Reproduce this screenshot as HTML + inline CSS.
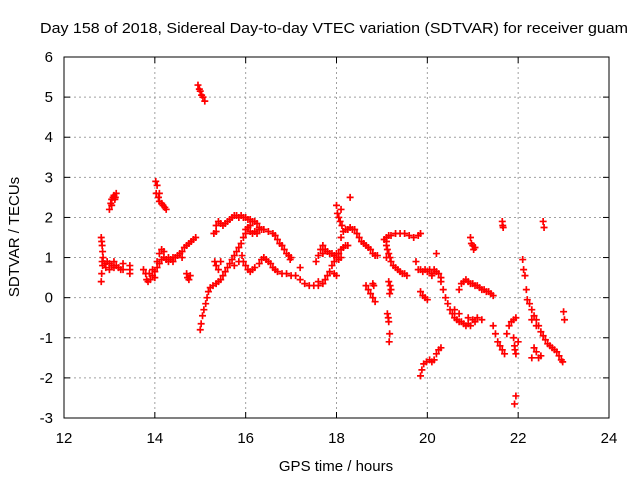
<!DOCTYPE html>
<html><head><meta charset="utf-8"><style>
body{margin:0;background:#fff}
svg text{font-family:"Liberation Sans",sans-serif;font-size:15px;fill:#000}
</style></head><body>
<svg id="chart" width="640" height="480" xmlns="http://www.w3.org/2000/svg">
<rect width="640" height="480" fill="#fff"/>
<text x="334" y="33" text-anchor="middle" textLength="588" lengthAdjust="spacingAndGlyphs">Day 158 of 2018, Sidereal Day-to-day VTEC variation (SDTVAR) for receiver guam</text>
<text x="336" y="471" text-anchor="middle">GPS time / hours</text>
<text transform="translate(19,237) rotate(-90)" text-anchor="middle">SDTVAR / TECUs</text>
<g id="grid"></g>
<g id="ticks"></g>
<g id="marks"></g>
<rect x="64" y="57" width="545" height="361" fill="none" stroke="#000" stroke-width="1"/>
</svg>
<script>
const xTicks=[12,14,16,18,20,22,24];
const yTicks=[-3,-2,-1,0,1,2,3,4,5,6];
const segA=[[12.82,1.5],[12.83,1.4],[12.84,1.3],[12.85,1.15],[12.86,1.0],[12.84,0.9],[12.85,0.8],[12.83,0.6],[12.82,0.4],[12.9,0.85],[12.95,0.9],[13.0,0.85],[13.05,0.8],[13.1,0.9],[13.15,0.8],[13.2,0.75],[13.25,0.7],[12.92,0.75],[13.0,0.7],[13.1,0.75],[13.3,0.85],[13.3,0.7]];
const segB=[[13.0,2.2],[13.03,2.35],[13.05,2.45],[13.08,2.5],[13.1,2.55],[13.13,2.5],[13.15,2.6],[13.05,2.3],[13.12,2.45]];
const segC=[[13.45,0.8],[13.45,0.7],[13.45,0.6],[13.75,0.7],[13.8,0.6],[13.82,0.45],[13.85,0.4],[13.9,0.45],[13.95,0.55],[14.0,0.65],[14.05,0.75],[14.1,0.85],[14.15,0.95],[14.2,1.0],[14.25,0.95],[14.3,1.0],[14.35,0.95],[14.4,1.0],[14.45,1.0],[14.5,1.05],[14.55,1.1],[14.6,1.15],[14.65,1.25],[14.7,1.3],[14.75,1.35],[14.8,1.4],[14.85,1.45],[14.9,1.5],[13.88,0.6],[13.95,0.7],[14.05,0.9],[14.1,1.1],[14.15,1.2],[14.2,1.15],[14.0,0.5],[14.3,0.9],[14.4,0.9],[14.6,1.0]];
const segD=[[14.02,2.9],[14.05,2.8],[14.03,2.6],[14.08,2.5],[14.1,2.4],[14.15,2.35],[14.18,2.3],[14.22,2.25],[14.25,2.2],[14.1,2.6],[14.7,0.6],[14.72,0.5],[14.75,0.45],[14.78,0.55]];
const segE=[[14.95,5.3],[14.98,5.2],[15.0,5.15],[15.03,5.05],[15.06,5.0],[15.1,4.9]];
const segF=[[15.0,-0.8],[15.02,-0.65],[15.05,-0.45],[15.08,-0.3],[15.12,-0.15],[15.15,0.0],[15.18,0.15],[15.22,0.25],[15.28,0.3],[15.35,0.35],[15.4,0.4],[15.45,0.45],[15.5,0.55],[15.55,0.65],[15.6,0.75],[15.65,0.85],[15.7,0.95],[15.75,1.05],[15.8,1.15],[15.85,1.25],[15.9,1.35],[15.95,1.5],[16.0,1.6],[15.75,0.8],[15.85,0.9],[15.92,1.05],[15.32,0.9],[15.35,0.8],[15.4,0.7],[15.45,0.9]];
const segG=[[15.3,1.6],[15.35,1.8],[15.4,1.9],[15.45,1.85],[15.5,1.8],[15.55,1.85],[15.6,1.9],[15.65,1.95],[15.7,2.0],[15.75,2.05],[15.8,2.05],[15.85,2.0],[15.9,2.05],[15.95,2.0],[16.0,2.0],[16.05,1.95],[16.1,1.95],[16.15,1.9],[16.2,1.9],[16.25,1.85],[16.3,1.75],[16.35,1.7],[15.35,1.65]];
const segH=[[16.0,1.7],[16.05,1.75],[16.1,1.65],[16.15,1.6],[16.2,1.65],[16.3,1.7],[16.4,1.7],[16.5,1.65],[16.6,1.6],[16.65,1.55],[16.7,1.45],[16.75,1.35],[16.8,1.3],[16.85,1.2],[16.9,1.1],[16.95,1.05],[17.0,1.0],[16.1,1.8],[16.25,1.6]];
const segI=[[15.95,0.9],[16.0,0.8],[16.05,0.7],[16.1,0.65],[16.15,0.7],[16.2,0.75],[16.3,0.85],[16.35,0.95],[16.4,1.0],[16.45,0.95],[16.5,0.9],[16.55,0.85],[16.6,0.75],[16.65,0.7],[16.7,0.65],[16.8,0.6],[16.9,0.6],[17.0,0.55],[17.1,0.55],[17.2,0.45],[17.3,0.35],[17.4,0.3],[17.5,0.3],[17.6,0.3],[17.7,0.35],[17.75,0.45],[17.8,0.55],[17.85,0.65],[17.9,0.8],[17.95,0.9],[18.0,1.0],[18.05,1.1],[18.1,1.2],[18.15,1.25],[18.2,1.3],[18.25,1.3],[16.98,0.95],[17.2,0.75],[17.6,0.4]];
const segJ=[[17.55,0.9],[17.6,1.05],[17.65,1.2],[17.7,1.3],[17.75,1.2],[17.8,1.15],[17.85,1.1],[17.9,1.1],[17.95,1.05],[18.0,1.1],[18.05,0.95],[18.1,1.0],[17.7,1.1],[17.95,0.6],[18.0,0.55]];
const segK=[[18.0,2.3],[18.02,2.1],[18.05,2.0],[18.08,1.9],[18.1,2.2],[18.12,1.8],[18.15,1.65],[18.2,1.7],[18.25,1.7],[18.3,1.75],[18.35,1.7],[18.4,1.7],[18.45,1.6],[18.5,1.5],[18.55,1.4],[18.6,1.35],[18.65,1.3],[18.7,1.25],[18.75,1.2],[18.8,1.1],[18.85,1.05],[18.9,1.05],[18.3,2.5],[18.1,1.5]];
const segL=[[18.65,0.3],[18.7,0.2],[18.75,0.1],[18.8,0.0],[18.85,-0.1],[18.82,0.3],[18.8,0.35],[19.1,1.4],[19.1,1.3],[19.12,1.2],[19.15,1.1],[19.18,1.0],[19.1,1.0],[19.2,0.9],[19.25,0.8],[19.3,0.75],[19.35,0.7],[19.4,0.65],[19.45,0.6],[19.5,0.6],[19.55,0.55],[19.12,-0.4],[19.14,-0.5],[19.15,-0.6],[19.17,-0.9],[19.16,-1.1],[19.15,0.4],[19.18,0.3],[19.2,0.2],[19.17,0.1]];
const segM=[[19.05,1.45],[19.1,1.5],[19.15,1.55],[19.2,1.55],[19.3,1.6],[19.4,1.6],[19.5,1.6],[19.6,1.55],[19.7,1.5],[19.8,1.55],[19.85,1.6]];
const segN=[[19.75,0.9],[19.8,0.7],[19.85,0.7],[19.9,0.65],[19.95,0.7],[20.0,0.65],[20.05,0.7],[20.1,0.6],[20.15,0.7],[20.2,0.65],[20.25,0.6],[20.3,0.5],[20.1,0.55],[19.85,0.15],[19.9,0.05],[19.95,0.0],[20.0,-0.05],[20.2,1.1],[19.85,-1.95],[19.88,-1.8],[19.92,-1.65],[19.98,-1.6],[20.05,-1.55],[20.1,-1.6],[20.15,-1.55],[20.2,-1.4],[20.25,-1.3],[20.3,-1.25]];
const segO=[[20.3,0.4],[20.35,0.2],[20.4,0.0],[20.45,-0.15],[20.5,-0.3],[20.55,-0.4],[20.6,-0.5],[20.65,-0.55],[20.7,-0.6],[20.75,-0.6],[20.8,-0.65],[20.85,-0.7],[20.9,-0.65],[20.95,-0.7],[21.0,-0.55],[21.05,-0.6],[21.1,-0.5],[20.6,-0.3],[20.7,-0.4],[20.9,-0.5],[21.2,-0.55]];
const segP=[[20.7,0.2],[20.75,0.35],[20.8,0.4],[20.85,0.45],[20.9,0.4],[20.95,0.35],[21.0,0.35],[21.05,0.3],[21.1,0.3],[21.15,0.25],[21.2,0.2],[21.25,0.2],[21.3,0.15],[21.35,0.15],[21.4,0.1],[21.45,0.05],[20.95,1.5],[20.97,1.35],[21.0,1.3],[21.05,1.25],[21.02,1.2],[21.65,1.9],[21.66,1.8],[21.67,1.75]];
const segQ=[[21.45,-0.7],[21.5,-0.9],[21.55,-1.1],[21.6,-1.2],[21.65,-1.3],[21.7,-1.4],[21.75,-0.9],[21.8,-0.7],[21.85,-0.6],[21.9,-0.55],[21.95,-0.5],[21.9,-1.0],[21.92,-1.2],[21.95,-1.4],[21.93,-1.3],[21.95,-2.45],[21.92,-2.65],[22.0,-1.1]];
const segR=[[22.1,0.95],[22.12,0.7],[22.15,0.55],[22.18,0.2],[22.2,-0.05],[22.25,-0.15],[22.3,-0.3],[22.35,-0.45],[22.4,-0.55],[22.45,-0.7],[22.5,-0.85],[22.55,-0.95],[22.6,-1.05],[22.65,-1.15],[22.7,-1.2],[22.75,-1.25],[22.8,-1.3],[22.85,-1.35],[22.9,-1.45],[22.95,-1.55],[22.98,-1.6],[22.3,-0.55],[22.4,-0.7],[22.35,-1.25],[22.4,-1.35],[22.45,-1.5],[22.3,-1.5],[22.5,-1.45],[22.55,1.9],[22.57,1.75],[23.0,-0.35],[23.02,-0.55]];
const allSegs=[segA,segB,segC,segD,segE,segF,segG,segH,segI,segJ,segK,segL,segM,segN,segO,segP,segQ,segR];
const NS='http://www.w3.org/2000/svg';
const X=v=>64+(v-12)*545/12, Y=v=>57+(6-v)*361/9;
const grid=document.getElementById('grid'), ticks=document.getElementById('ticks'), marks=document.getElementById('marks');
function ln(p,x1,y1,x2,y2,st,extra){const l=document.createElementNS(NS,'line');l.setAttribute('x1',x1);l.setAttribute('y1',y1);l.setAttribute('x2',x2);l.setAttribute('y2',y2);l.setAttribute('stroke',st);if(extra)l.setAttribute('stroke-dasharray',extra);p.appendChild(l);return l;}
xTicks.forEach(t=>{const x=X(t);
 if(t>12&&t<24){const g=ln(grid,x,57,x,418,'#a0a0a0','2,3');
 
 }
 ln(ticks,x,418,x,412,'#000');ln(ticks,x,57,x,63,'#000');
 const tx=document.createElementNS(NS,'text');tx.setAttribute('x',x);tx.setAttribute('y',443);tx.setAttribute('text-anchor','middle');tx.textContent=t;
 
 
 ticks.appendChild(tx);});
yTicks.forEach(t=>{const y=Y(t);
 if(t>-3&&t<6){const g=ln(grid,64,y,609,y,'#a0a0a0','2,3');
 
 }
 ln(ticks,64,y,70,y,'#000');ln(ticks,609,y,603,y,'#000');
 const tx=document.createElementNS(NS,'text');tx.setAttribute('x',53);tx.setAttribute('y',y+5);tx.setAttribute('text-anchor','end');tx.textContent=t;
 
 
 ticks.appendChild(tx);});
allSegs.forEach(seg=>seg.forEach(p=>{const x=X(p[0]),y=Y(p[1]);
 const path=document.createElementNS(NS,'path');
 path.setAttribute('d',`M${x-3.5},${y}H${x+3.5}M${x},${y-3.5}V${y+3.5}`);
 path.setAttribute('stroke','#ff0000');path.setAttribute('stroke-width','1.7');
 
 
 marks.appendChild(path);}));
</script>
</body></html>
